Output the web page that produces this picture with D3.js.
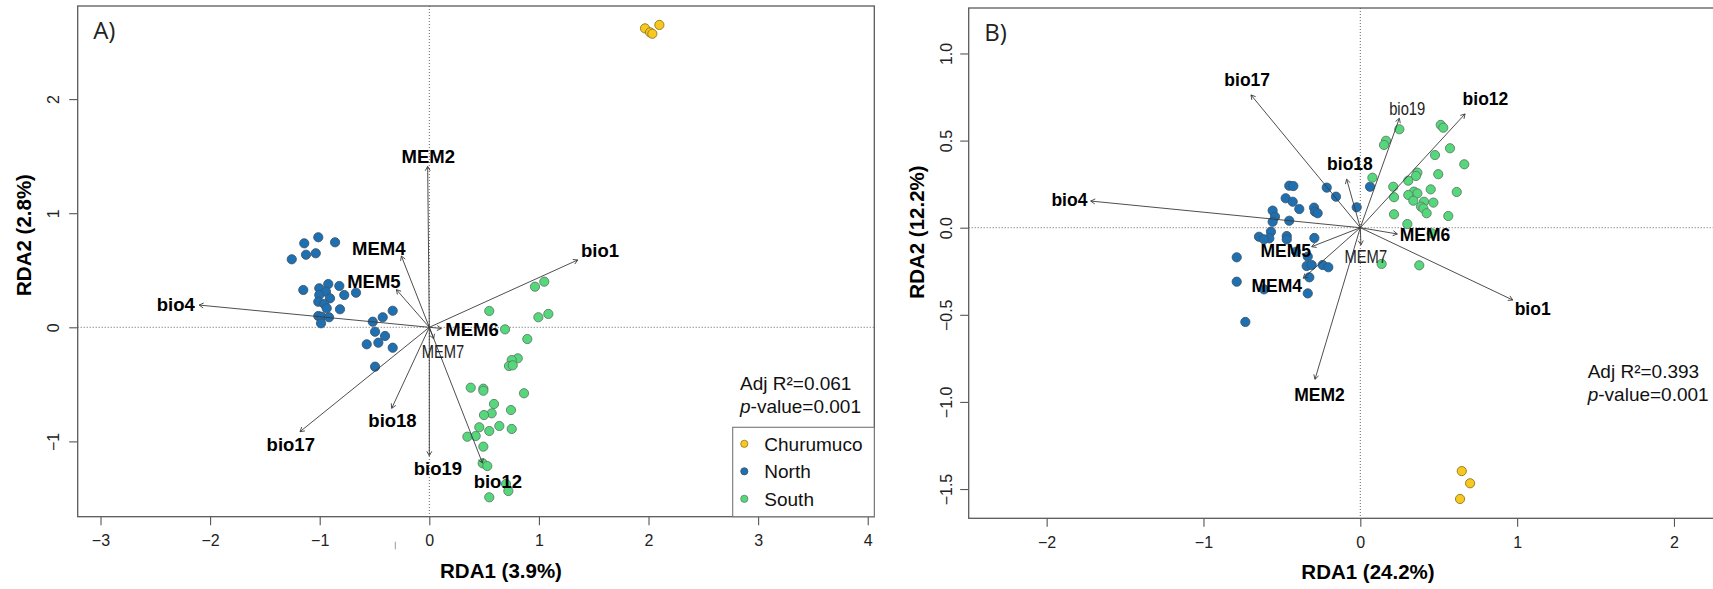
<!DOCTYPE html>
<html>
<head>
<meta charset="utf-8">
<script src="https://cdn.jsdelivr.net/npm/d3@7"></script>
<style>
  html, body { margin: 0; padding: 0; background: #fff; }
  svg { display: block; font-family: "Liberation Sans", Arial, sans-serif; }
</style>
</head>
<body>
<div id="chart"></div>
<script>
// ---------------------------------------------------------------------------
// RDA biplots — A) and B). Site scores by group + constraint arrows.
// ---------------------------------------------------------------------------

const groups = ["Churumuco", "North", "South"];
const groupColors = { Churumuco: "#f8c81e", North: "#1f70b0", South: "#55d87c" };
const groupStroke = { Churumuco: "#8f7620", North: "#3a5670", South: "#5f7d68" };

// ---- panel A --------------------------------------------------------------
const northA = [
  [-1.013, 0.789], [-1.141, 0.736], [-0.860, 0.745], [-1.255, 0.596], [-1.125, 0.636],
  [-1.036, 0.649], [-1.150, 0.327], [-1.004, 0.342], [-0.922, 0.379], [-0.821, 0.362],
  [-0.669, 0.303], [-0.776, 0.283], [-0.943, 0.312], [-1.004, 0.283], [-0.906, 0.254],
  [-1.013, 0.224], [-0.958, 0.204], [-0.936, 0.167], [-0.815, 0.158], [-1.013, 0.099],
  [-0.982, 0.093], [-0.915, 0.088], [-0.988, 0.035], [-0.334, 0.145], [-0.425, 0.088],
  [-0.516, 0.049], [-0.495, -0.039], [-0.404, -0.076], [-0.571, -0.149], [-0.465, -0.135],
  [-0.334, -0.179], [-0.495, -0.345]
];
const southA = [
  [1.049, 0.400], [0.964, 0.356], [0.547, 0.143], [1.086, 0.117], [0.995, 0.088],
  [0.691, -0.018], [0.894, -0.103], [0.807, -0.272], [0.752, -0.287], [0.727, -0.339],
  [0.761, -0.333], [0.378, -0.529], [0.493, -0.538], [0.493, -0.556], [0.864, -0.578],
  [0.590, -0.672], [0.745, -0.725], [0.569, -0.754], [0.499, -0.769], [0.456, -0.876],
  [0.639, -0.865], [0.547, -0.909], [0.752, -0.891], [0.347, -0.959], [0.423, -0.953],
  [0.493, -1.046], [0.487, -1.192], [0.529, -1.216], [0.700, -1.373], [0.721, -1.435],
  [0.547, -1.490]
];
const churA = [[1.968, 2.620], [2.014, 2.585], [2.035, 2.573], [2.099, 2.650]];

const varNames = ["bio1", "bio4", "bio12", "bio17", "bio18", "bio19", "MEM2", "MEM4", "MEM5", "MEM6", "MEM7"];
const tipsA = [
  [1.354, 0.590], [-2.100, 0.195], [0.485, -1.190], [-1.180, -0.915], [-0.343, -0.710],
  [0.000, -1.125], [-0.015, 1.410], [-0.255, 0.625], [-0.300, 0.330], [0.110, -0.010], [0.040, -0.100]
];
const labelPosA = [
  [1.557, 0.677], [-2.313, 0.204], [0.625, -1.353], [-1.264, -1.023], [-0.336, -0.812],
  [0.078, -1.236], [-0.009, 1.501], [-0.461, 0.692], [-0.506, 0.400], [0.389, -0.015], [0.125, -0.214]
];
const plainA = ["MEM7"];
const xTicksA = [-3, -2, -1, 0, 1, 2, 3, 4];
const yTicksA = [-1, 0, 1, 2];
const xLimA = [-3.208, 4.060];
const yLimA = [-1.660, 2.816];

// ---- panel B --------------------------------------------------------------
const northB = [
  [-0.453, 0.241], [-0.427, 0.239], [-0.214, 0.230], [-0.155, 0.178], [-0.476, 0.169],
  [-0.431, 0.149], [-0.023, 0.117], [-0.389, 0.107], [-0.295, 0.115], [-0.289, 0.092],
  [-0.272, 0.083], [-0.559, 0.098], [-0.544, 0.063], [-0.559, 0.034], [-0.453, 0.040],
  [-0.570, -0.023], [-0.646, -0.052], [-0.580, -0.061], [-0.614, -0.067], [-0.469, -0.048],
  [-0.469, -0.067], [-0.293, -0.059], [-0.788, -0.170], [-0.410, -0.138], [-0.335, -0.166],
  [-0.342, -0.220], [-0.310, -0.214], [-0.240, -0.214], [-0.204, -0.227], [-0.325, -0.285],
  [-0.788, -0.310], [-0.335, -0.377], [-0.733, -0.541], [0.062, 0.235], [-0.614, -0.354]
];
const southB = [
  [0.249, 0.565], [0.513, 0.590], [0.529, 0.574], [0.164, 0.499], [0.151, 0.475],
  [0.572, 0.456], [0.476, 0.417], [0.663, 0.364], [0.497, 0.307], [0.364, 0.316],
  [0.355, 0.297], [0.306, 0.270], [0.077, 0.287], [0.210, 0.235], [0.449, 0.220],
  [0.615, 0.205], [0.342, 0.207], [0.364, 0.197], [0.306, 0.188], [0.215, 0.175],
  [0.338, 0.155], [0.406, 0.149], [0.466, 0.144], [0.387, 0.121], [0.402, 0.111],
  [0.423, 0.083], [0.215, 0.077], [0.561, 0.067], [0.300, 0.021], [0.455, -0.032],
  [0.136, -0.208], [0.376, -0.216]
];
const churB = [[0.647, -1.397], [0.700, -1.467], [0.636, -1.557]];

const tipsB = [
  [0.972, -0.415], [-1.719, 0.153], [0.668, 0.653], [-0.697, 0.762], [-0.087, 0.278],
  [0.249, 0.628], [-0.289, -0.870], [-0.364, -0.290], [-0.310, -0.109], [0.236, -0.036], [0.004, -0.099]
];
const labelPosB = [
  [1.099, -0.463], [-1.855, 0.159], [0.798, 0.743], [-0.721, 0.848], [-0.066, 0.370],
  [0.299, 0.685], [-0.260, -0.960], [-0.533, -0.335], [-0.475, -0.132], [0.413, -0.042], [0.035, -0.166]
];
const plainB = ["bio19", "MEM7"];
const xTicksB = [-2, -1, 0, 1, 2];
const yTicksB = [-1.5, -1, -0.5, 0, 0.5, 1];
const xLimB = [-2.497, 2.268];
const yLimB = [-1.668, 1.261];

// ---------------------------------------------------------------------------
const W = 1713, H = 589;
const svg = d3.select("#chart").append("svg").attr("width", W).attr("height", H);

const panels = [
  {
    id: "A", tag: "A)", left: 77.7, right: 874.3, top: 6, bottom: 516.7,
    xLim: xLimA, yLim: yLimA, xTicks: xTicksA, yTicks: yTicksA, yFmt: d3.format("d"),
    pts: { Churumuco: churA, North: northA, South: southA }, r: 4.6,
    tips: tipsA, labels: labelPosA, plain: plainA, labelSize: 18.5,
    xTitle: "RDA1 (3.9%)", yTitle: "RDA2 (2.8%)",
    xTitleAt: [501, 577.5], yTitleAt: [31, 235],
    yTickOff: 18.7, xTickPad: 9,
    stats: ["0.061", "0.001"], statsAt: [740, 390], legend: true
  },
  {
    id: "B", tag: "B)", left: 968.7, right: 1716, top: 8, bottom: 518.3,
    xLim: xLimB, yLim: yLimB, xTicks: xTicksB, yTicks: yTicksB, yFmt: d3.format(".1f"),
    pts: { Churumuco: churB, North: northB, South: southB }, r: 4.6,
    tips: tipsB, labels: labelPosB, plain: plainB, labelSize: 17.5,
    xTitle: "RDA1 (24.2%)", yTitle: "RDA2 (12.2%)",
    xTitleAt: [1368, 579], yTitleAt: [924, 232],
    yTickOff: 16.3, xTickPad: 9.7,
    stats: ["0.393", "0.001"], statsAt: [1587.7, 378], legend: false
  }
];

panels.forEach(drawPanel);

function drawPanel(p) {
  const g = svg.append("g").attr("class", "panel-" + p.id);
  const x = d3.scaleLinear().domain(p.xLim).range([p.left, p.right]);
  const y = d3.scaleLinear().domain(p.yLim).range([p.bottom, p.top]);

  // zero reference lines
  g.append("line")
    .attr("x1", x(0)).attr("x2", x(0)).attr("y1", p.top).attr("y2", p.bottom)
    .attr("stroke", "#555").attr("stroke-width", 0.9).attr("stroke-dasharray", "1,2");
  g.append("line")
    .attr("x1", p.left).attr("x2", p.right).attr("y1", y(0)).attr("y2", y(0))
    .attr("stroke", "#555").attr("stroke-width", 0.9).attr("stroke-dasharray", "1,2");

  // site scores
  for (const grp of ["North", "South", "Churumuco"]) {
    g.append("g").selectAll("circle")
      .data(p.pts[grp])
      .enter().append("circle")
        .attr("cx", (d) => x(d[0]))
        .attr("cy", (d) => y(d[1]))
        .attr("r", p.r)
        .attr("fill", groupColors[grp])
        .attr("stroke", groupStroke[grp])
        .attr("stroke-width", 0.9);
  }

  // constraint arrows
  const x0 = x(0), y0 = y(0);
  const arrows = g.append("g").attr("stroke", "#3a3a3a").attr("stroke-width", 0.9).attr("fill", "none");
  p.tips.forEach((t) => {
    const tx = x(t[0]), ty = y(t[1]);
    arrows.append("line").attr("x1", x0).attr("y1", y0).attr("x2", tx).attr("y2", ty);
    const ang = Math.atan2(ty - y0, tx - x0);
    const L = 5, a = Math.PI / 6;
    const p1 = [tx - L * Math.cos(ang - a), ty - L * Math.sin(ang - a)];
    const p2 = [tx - L * Math.cos(ang + a), ty - L * Math.sin(ang + a)];
    arrows.append("path").attr("d", `M${p1[0]},${p1[1]}L${tx},${ty}L${p2[0]},${p2[1]}`);
  });

  // arrow labels
  varNames.forEach((name, i) => {
    const lp = p.labels[i];
    const plain = p.plain.includes(name);
    g.append("text")
      .attr("transform", `translate(${x(lp[0])},${y(lp[1])})` + (plain ? " scale(0.82,1)" : ""))
      .attr("text-anchor", "middle")
      .attr("dy", "0.36em")
      .attr("fill", plain ? "#222" : "#000")
      .attr("font-weight", plain ? "normal" : "bold")
      .attr("font-size", plain ? 18 : p.labelSize)
      .text(name);
  });

  // axes
  const xAxis = g.append("g")
    .attr("transform", `translate(0,${p.bottom})`)
    .call(d3.axisBottom(x).tickValues(p.xTicks).tickFormat(d3.format("d"))
      .tickSize(8.5).tickPadding(p.xTickPad));
  const yAxis = g.append("g")
    .attr("transform", `translate(${p.left},0)`)
    .call(d3.axisLeft(y).tickValues(p.yTicks).tickFormat(p.yFmt).tickSize(8.5));
  for (const ax of [xAxis, yAxis]) {
    ax.select(".domain").remove();
    ax.selectAll("line").attr("stroke", "#555").attr("stroke-width", 1.1);
    ax.selectAll("text")
      .attr("fill", "#222")
      .attr("font-family", "Liberation Sans, Arial, sans-serif")
      .attr("font-size", 16);
  }
  yAxis.selectAll("text")
    .attr("x", null).attr("dy", null)
    .attr("text-anchor", "middle")
    .attr("transform", `translate(${-p.yTickOff},0) rotate(-90)`);

  // frame
  g.append("rect")
    .attr("x", p.left).attr("y", p.top)
    .attr("width", p.right - p.left).attr("height", p.bottom - p.top)
    .attr("fill", "none").attr("stroke", "#5a5a5a").attr("stroke-width", 1.3);

  // titles
  g.append("text")
    .attr("x", p.xTitleAt[0]).attr("y", p.xTitleAt[1])
    .attr("text-anchor", "middle").attr("font-weight", "bold").attr("font-size", 20.5)
    .text(p.xTitle);
  g.append("text")
    .attr("transform", `translate(${p.yTitleAt[0]},${p.yTitleAt[1]}) rotate(-90)`)
    .attr("text-anchor", "middle").attr("font-weight", "bold").attr("font-size", 20.5)
    .text(p.yTitle);

  g.append("text")
    .attr("x", p.left + 15.5).attr("y", p.top + 32.5)
    .attr("font-family", "Open Sans, sans-serif").attr("font-size", 24).attr("fill", "#222")
    .text(p.tag);

  // statistics
  const st = g.append("g").attr("font-size", 19).attr("fill", "#111");
  st.append("text").attr("x", p.statsAt[0]).attr("y", p.statsAt[1])
    .text(`Adj R\u00b2=${p.stats[0]}`);
  const pv = st.append("text").attr("x", p.statsAt[0]).attr("y", p.statsAt[1] + 23);
  pv.append("tspan").attr("font-style", "italic").text("p");
  pv.append("tspan").text(`-value=${p.stats[1]}`);

  if (p.legend) drawLegend(g, p);
}

function drawLegend(g, p) {
  const lx = 732.7, ly = 427.3;
  g.append("rect")
    .attr("x", lx).attr("y", ly)
    .attr("width", p.right - lx).attr("height", p.bottom - ly)
    .attr("fill", "#fff").attr("stroke", "#777").attr("stroke-width", 1.1);
  const rows = g.append("g").selectAll("g.leg")
    .data(groups).enter().append("g")
      .attr("transform", (_, i) => `translate(${lx},${ly + 16.5 + i * 27.5})`);
  rows.append("circle")
    .attr("cx", 11.6).attr("cy", 0).attr("r", 3.6)
    .attr("fill", (d) => groupColors[d])
    .attr("stroke", (d) => groupStroke[d]).attr("stroke-width", 0.8);
  rows.append("text")
    .attr("x", 31.6).attr("y", 0).attr("dy", "0.36em")
    .attr("font-size", 19).attr("fill", "#111")
    .text((d) => d);

  // stray tick mark under the axis
  g.append("line")
    .attr("x1", 395.3).attr("x2", 395.3).attr("y1", 541.7).attr("y2", 549.3)
    .attr("stroke", "#999").attr("stroke-width", 1);
}
</script>
</body>
</html>
